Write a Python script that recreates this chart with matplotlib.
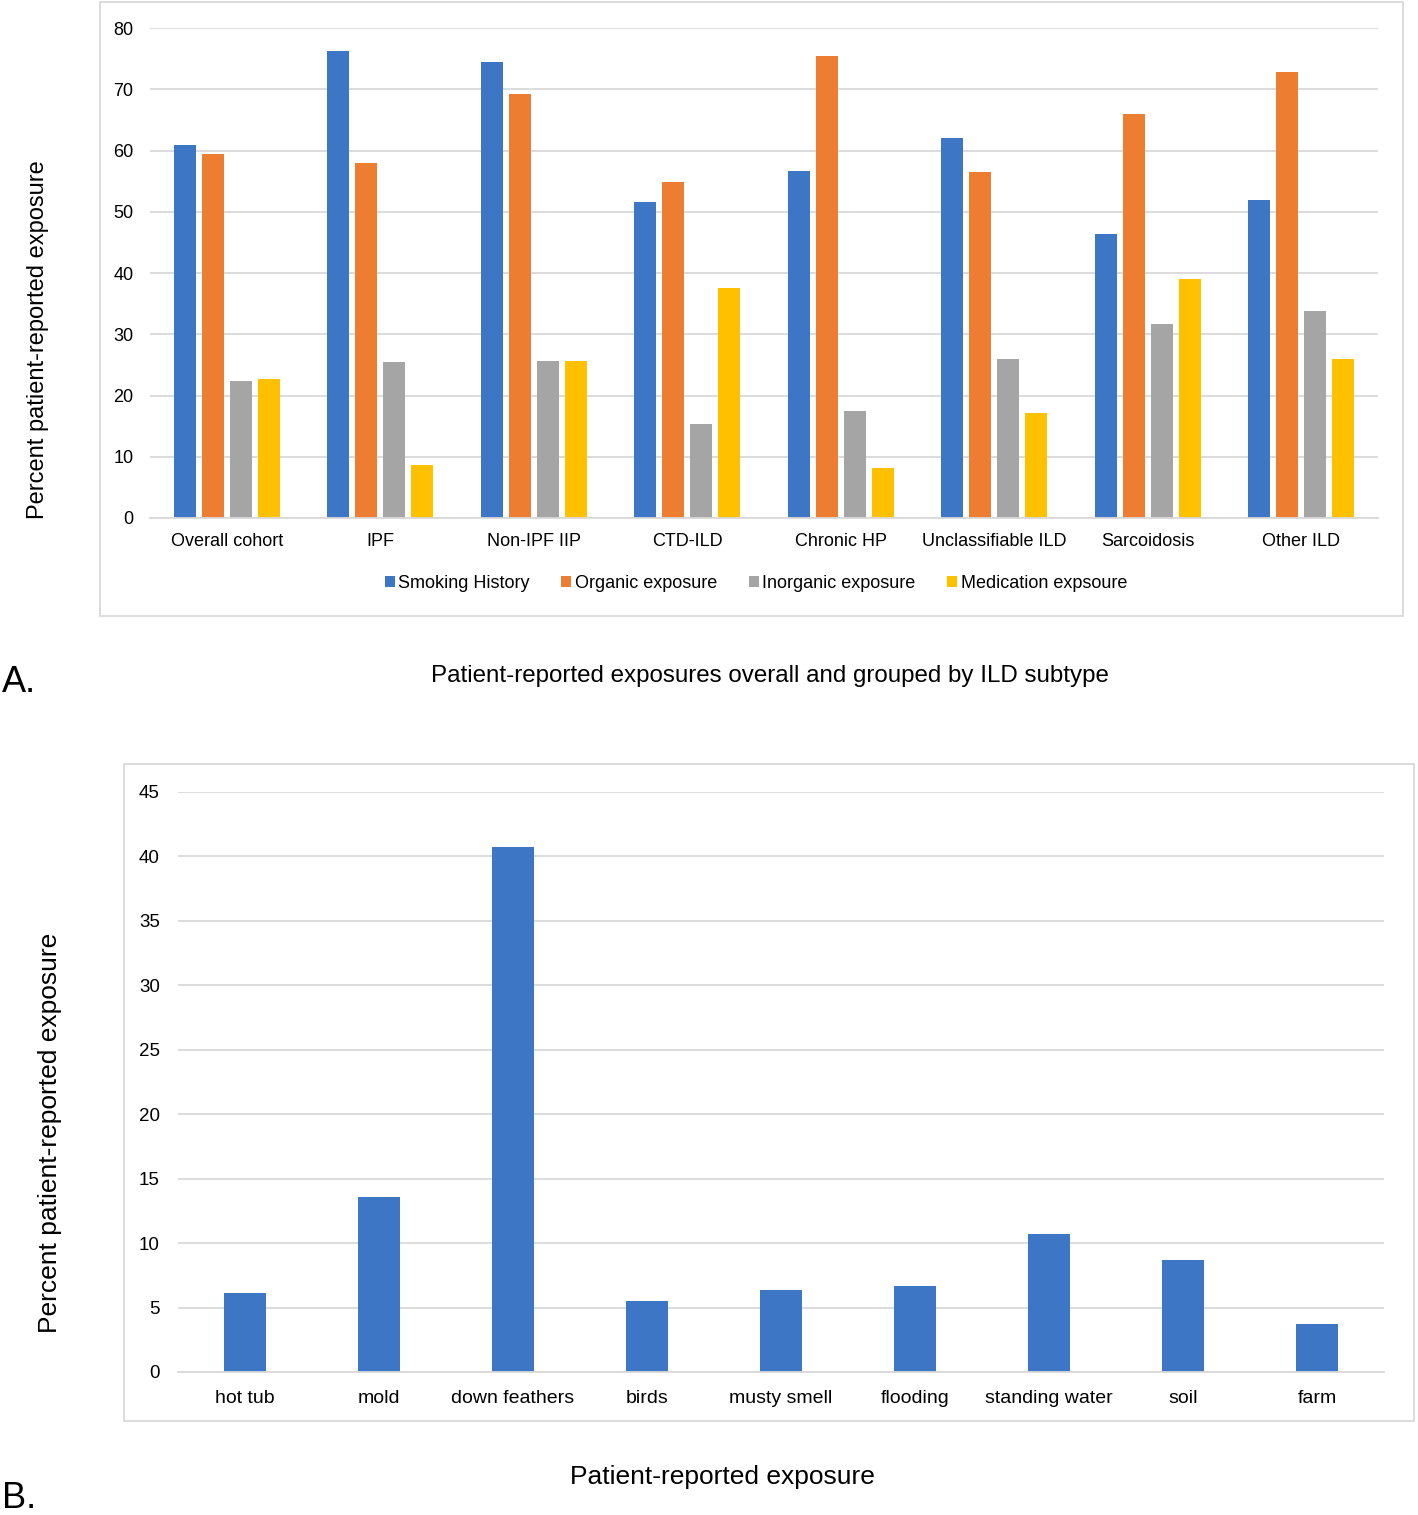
import numpy as np
import matplotlib
matplotlib.use("Agg")
import matplotlib.pyplot as plt
from matplotlib.patches import Rectangle

plt.rcParams['font.family'] = ['Liberation Sans', 'DejaVu Sans']

# panel A data
subtypes = ['Overall cohort', 'IPF', 'Non-IPF IIP', 'CTD-ILD', 'Chronic HP',
            'Unclassifiable ILD', 'Sarcoidosis', 'Other ILD']
smoking = [60.9, 76.2, 74.4, 51.6, 56.6, 62.1, 46.3, 52.0]
organic = [59.4, 58.0, 69.3, 54.9, 75.4, 56.5, 65.9, 72.8]
inorganic = [22.3, 25.4, 25.6, 15.4, 17.5, 26.0, 31.7, 33.8]
medication = [22.7, 8.6, 25.6, 37.6, 8.2, 17.2, 39.1, 26.0]
series_names = ['Smoking History', 'Organic exposure', 'Inorganic exposure', 'Medication expsoure']

# panel B data
exposures = ['hot tub', 'mold', 'down feathers', 'birds', 'musty smell', 'flooding',
             'standing water', 'soil', 'farm']
exposure_pct = [6.1, 13.6, 40.7, 5.5, 6.4, 6.7, 10.7, 8.7, 3.7]

colors = ['#3E76C6', '#ED7D31', '#A5A5A5', '#FFC000']
grid_c = '#D9D9D9'

W, H = 1418, 1515
fig = plt.figure(figsize=(W / 100, H / 100), dpi=100)

def fx(px):
    return px / W

def fy(py):
    return 1 - py / H

# chart frames
fig.patches.append(Rectangle((fx(100), fy(616)), fx(1303), 614 / H, transform=fig.transFigure,
                             fill=False, edgecolor=grid_c, linewidth=1.3))
fig.patches.append(Rectangle((fx(124), fy(1421)), fx(1290), 657 / H, transform=fig.transFigure,
                             fill=False, edgecolor=grid_c, linewidth=1.3))

def style(ax):
    for s in ['top', 'right', 'left']:
        ax.spines[s].set_visible(False)
    ax.spines['bottom'].set_color(grid_c)
    ax.spines['bottom'].set_linewidth(1.3)
    ax.tick_params(length=0)
    ax.grid(axis='y', color=grid_c, linewidth=1.3)
    ax.set_axisbelow(True)

# ---- panel A
axA = fig.add_axes([fx(150), fy(518), fx(1228), 490 / H])
x = np.arange(len(subtypes))
step = 0.182
width = 0.143
for i, (vals, c, name) in enumerate(zip([smoking, organic, inorganic, medication], colors, series_names)):
    axA.bar(x + (i - 1.5) * step, vals, width, color=c, label=name)
axA.set_xlim(-0.5, len(subtypes) - 0.5)
axA.set_ylim(0, 80)
axA.set_yticks(range(0, 81, 10))
axA.set_xticks(x)
axA.set_xticklabels(subtypes, fontsize=13)
axA.tick_params(axis='y', labelsize=13, pad=12)
axA.tick_params(axis='x', pad=11)
style(axA)
fig.legend(loc='center', bbox_to_anchor=(fx(756), fy(583)), ncol=4, frameon=False,
           fontsize=13, handlelength=0.55, handleheight=0.55, handletextpad=0.2,
           columnspacing=1.75)
fig.text(fx(38), fy(340), 'Percent patient-reported exposure', rotation=90,
         ha='center', va='center', fontsize=17)
fig.text(fx(770), fy(676), 'Patient-reported exposures overall and grouped by ILD subtype',
         ha='center', va='center', fontsize=17.4)
fig.text(fx(2), fy(682), 'A.', ha='left', va='center', fontsize=26)

# ---- panel B
axB = fig.add_axes([fx(178), fy(1372), fx(1206), 580 / H])
xb = np.arange(len(exposures))
axB.bar(xb, exposure_pct, 0.313, color=colors[0])
axB.set_xlim(-0.5, len(exposures) - 0.5)
axB.set_ylim(0, 45)
axB.set_yticks(range(0, 46, 5))
axB.set_xticks(xb)
axB.set_xticklabels(exposures, fontsize=14)
axB.tick_params(axis='y', labelsize=13.5, pad=13)
axB.tick_params(axis='x', pad=13)
style(axB)
fig.text(fx(50), fy(1133), 'Percent patient-reported exposure', rotation=90,
         ha='center', va='center', fontsize=19)
fig.text(fx(722), fy(1477), 'Patient-reported exposure', ha='center', va='center', fontsize=19)
fig.text(fx(2), fy(1498), 'B.', ha='left', va='center', fontsize=26)

fig.savefig('out.png', dpi=100)
